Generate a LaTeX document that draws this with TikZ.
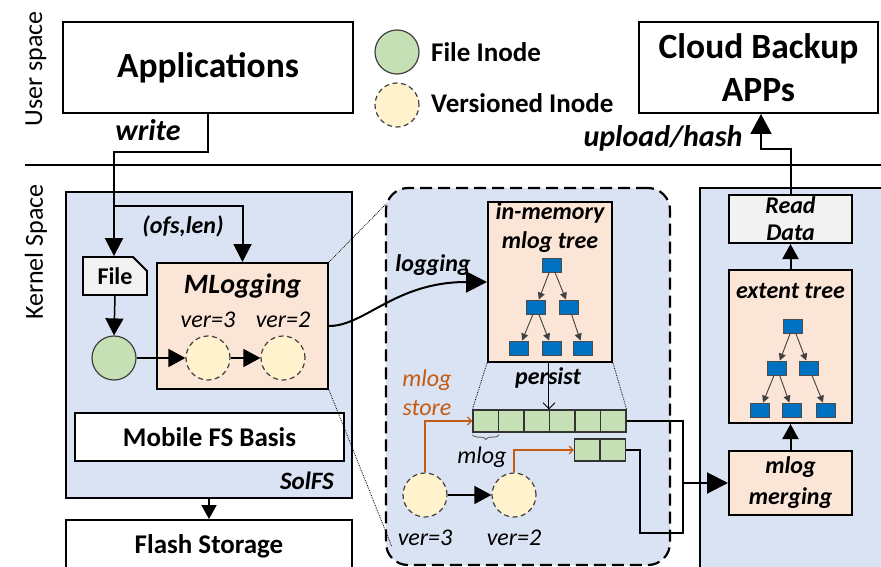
\documentclass[tikz,border=0pt]{standalone}
\usepackage{fontspec}
\setmainfont{Carlito}
\usetikzlibrary{arrows.meta,shapes.misc,decorations.pathreplacing}
\definecolor{panelblue}{HTML}{DAE3F3}
\definecolor{peach}{HTML}{FBE5D6}
\definecolor{inodegreen}{HTML}{C5E0B4}
\definecolor{verfill}{HTML}{FFF2CC}
\definecolor{treeblue}{HTML}{0070C0}
\definecolor{storeorange}{HTML}{C55A11}
\definecolor{filegray}{HTML}{F2F2F2}
\begin{document}
\begin{tikzpicture}[x=1pt,y=-1pt,
  box/.style={draw, line width=2pt, inner sep=0pt},
  panel/.style={draw, line width=2pt, fill=panelblue},
  conn/.style={line width=2pt},
  arr/.style={line width=2pt, -{Triangle[length=18pt,width=18pt]}},
  midarr/.style={line width=2pt, -{Triangle[length=15pt,width=16pt]}},
  thinarr/.style={line width=1.5pt, -{Triangle[length=17pt,width=18pt]}},
  inode/.style={circle, draw=black!75, line width=1.2pt, fill=inodegreen, minimum size=44pt, inner sep=0pt},
  vinode/.style={circle, draw=black!75, line width=1.2pt, dash pattern=on 5pt off 3.5pt, fill=verfill, minimum size=44pt, inner sep=0pt},
  tnode/.style={draw=black!70, line width=0.8pt, fill=treeblue, minimum width=19pt, minimum height=14pt, inner sep=0pt},
  tedge/.style={draw=black!75, line width=0.9pt, -{Triangle[length=7pt,width=7pt]}},
  cell/.style={draw=black!80, line width=1.2pt, fill=inodegreen, minimum width=25.5pt, minimum height=22pt, inner sep=0pt},
  bi/.style={font=\fontsize{24}{29}\selectfont\bfseries\itshape, align=center, inner sep=0pt},
  it/.style={font=\fontsize{24}{29}\selectfont\itshape, align=center, inner sep=0pt},
  bl/.style={font=\fontsize{27}{32}\selectfont\bfseries, align=center, inner sep=0pt},
  big/.style={font=\fontsize{35.5}{43}\selectfont\bfseries, align=center},
  side/.style={font=\fontsize{26}{30}\selectfont, rotate=90, inner sep=0pt},
  dots/.style={densely dotted, line width=0.8pt}
]
\useasboundingbox (0,0) rectangle (881,567);

% ---------- user space ----------
\node[side] (userlbl) at (36,69) {User space};
\node[side] (kernlbl) at (36,252) {Kernel Space};
\node[box, big, minimum width=290pt, minimum height=91pt] (app) at (208,67.5) {Applications};
\node[box, big, minimum width=239pt, minimum height=91pt] (cloud) at (758.5,67.5) {Cloud Backup\\APPs};

% legend
\node[inode] (leg1) at (397,52) {};
\node[vinode] (leg2) at (397,105) {};
\node[bl, anchor=west] (leg1t) at (431,52) {File Inode};
\node[bl, anchor=west] (leg2t) at (431,103) {Versioned Inode};

% user/kernel divider
\coordinate (divl) at (25,165);
\coordinate (divr) at (885,165);
\draw[line width=2pt] (divl) -- (divr);

% ---------- panels ----------
\node[panel, minimum width=286pt, minimum height=306pt] (solfs) at (209,345) {};
\node[draw, line width=2.2pt, dash pattern=on 12pt off 6pt, fill=panelblue, rounded corners=22pt,
      minimum width=284pt, minimum height=377pt] (midpanel) at (528,376.5) {};
\node[panel, minimum width=186pt, minimum height=386pt, anchor=north west] (rpanel) at (699,187) {};

% ---------- SolFS ----------
\node[box, line width=1.8pt, chamfered rectangle, chamfered rectangle corners=north east,
      chamfered rectangle sep=7pt, fill=filegray, minimum width=64pt, minimum height=38pt,
      font=\fontsize{24}{29}\selectfont\bfseries] (file) at (115,276) {File};
\node[inode] (fino) at (114,358) {};
\node[box, fill=peach, minimum width=171pt, minimum height=126pt] (mlog) at (242.5,326) {};
\node[font=\fontsize{28}{32}\selectfont\bfseries\itshape, inner sep=0pt] (mlogt) at (242.5,286) {MLogging};
\node[it] (v3t) at (208,320) {ver=3};
\node[it] (v2t) at (283,320) {ver=2};
\node[vinode] (v3) at (208,358) {};
\node[vinode] (v2) at (283,358) {};
\node[box, fill=white, bl, minimum width=269pt, minimum height=48pt] (basis) at (209.5,437) {Mobile FS Basis};
\node[font=\fontsize{25}{29}\selectfont\bfseries\itshape, anchor=east, inner sep=0pt] (solfst) at (334,481) {SolFS};
\node[box, fill=white, bl, minimum width=286pt, minimum height=60pt, text depth=0pt] (flash) at (209,550) {};
\node[bl] (flasht) at (209,546) {Flash Storage};

\draw[thinarr] (file.south) -- (fino.north);
\draw[thinarr] (fino.east) -- (v3.west);
\draw[thinarr] (v3.east) -- (v2.west);
\draw[line width=2pt, -{Triangle[length=14pt,width=15pt]}] (solfs.south) -- (flash.north);

% write path
\coordinate (wbend) at (114,152);
\coordinate (ofsbranch) at (114,206);
\draw[arr] (app.south) |- (wbend) -- (wbend |- file.north);
\draw[arr] (ofsbranch) -| (mlog.north);
\node[font=\fontsize{30}{34}\selectfont\bfseries\itshape, inner sep=0pt] (writet) at (148,130) {write};
\node[font=\fontsize{24}{29}\selectfont\bfseries\itshape, inner sep=0pt] (ofst) at (183,226) {(ofs,len)};

% ---------- in-memory mlog tree ----------
\node[box, fill=peach, minimum width=124pt, minimum height=160pt] (tree) at (550,282) {};
\node[bi] (treet) at (550,228) {in-memory\\mlog tree};
\node[tnode] (ma) at (552,265) {};
\node[tnode] (mb) at (536,307) {};
\node[tnode] (mc) at (569,307) {};
\node[tnode] (md) at (519,348) {};
\node[tnode] (me) at (552,348) {};
\node[tnode] (mf) at (583,348) {};
\draw[tedge] (ma) -- (mb);
\draw[tedge] (ma) -- (mc);
\draw[tedge] (mb) -- (md);
\draw[tedge] (mb) -- (me);
\draw[tedge] (mc) -- (mf);

\node[bi] (loggingt) at (433,265) {logging};
\draw[line width=2pt, -{Triangle[length=21pt,width=21pt]}] (mlog.east) .. controls (365,326) and (395,282) .. (tree.west);

% zoom guides
\coordinate (ztop) at (387,203);
\coordinate (zbot) at (392,547);
\draw[dots] (mlog.north east) -- (ztop);
\draw[dots] (mlog.south east) -- (zbot);

% ---------- persisted mlogs ----------
\node[cell] (c1) at (485.75,421) {};
\node[cell] (c2) at (511.25,421) {};
\node[cell] (c3) at (536.75,421) {};
\node[cell] (c4) at (562.25,421) {};
\node[cell] (c5) at (587.75,421) {};
\node[cell] (c6) at (613.25,421) {};
\node[cell] (s1) at (587.25,450) {};
\node[cell] (s2) at (612.75,450) {};

\draw[dots] (tree.south west) -- (c1.north west);
\draw[dots] (tree.south east) -- (c6.north east);
\node[bi] (persistt) at (548,378) {persist};
\draw[line width=0.9pt, -{Straight Barb[length=6pt,width=12pt]}] (tree.south -| c4.north west) -- (c4.north west);

\draw[black!60, line width=0.9pt, decorate, decoration={brace, amplitude=5pt, mirror, raise=2pt}] (c1.south west) -- (c1.south east);
\node[it] (mlogbt) at (482,457) {mlog};

\node[vinode] (lv3) at (425,495) {};
\node[vinode] (lv2) at (514,495) {};
\node[it] (lv3t) at (425,538) {ver=3};
\node[it] (lv2t) at (514,538) {ver=2};
\draw[thinarr] (lv3.east) -- (lv2.west);

\node[it, text=storeorange] (storet) at (427,393) {mlog\\store};
\draw[storeorange, line width=1.2pt, -{Straight Barb[length=4pt,width=8pt]}] (lv3.north) |- (c1.west);
\draw[storeorange, line width=1.2pt, -{Straight Barb[length=4pt,width=8pt]}] (lv2.north) |- (s1.west);

% ---------- merging side ----------
\node[box, fill=filegray, bi, minimum width=123pt, minimum height=48pt] (read) at (790.5,219) {Read\\[-2pt]Data};
\node[box, fill=peach, minimum width=123pt, minimum height=153pt] (ext) at (790.5,346.5) {};
\node[bi] (extt) at (790.5,291) {extent tree};
\node[tnode] (ea) at (793,326) {};
\node[tnode] (eb) at (777,368) {};
\node[tnode] (ec) at (809,368) {};
\node[tnode] (ed) at (760,410) {};
\node[tnode] (ee) at (792,410) {};
\node[tnode] (ef) at (826,410) {};
\draw[tedge] (ea) -- (eb);
\draw[tedge] (ea) -- (ec);
\draw[tedge] (eb) -- (ed);
\draw[tedge] (eb) -- (ee);
\draw[tedge] (ec) -- (ef);
\node[box, fill=peach, bi, minimum width=123pt, minimum height=64pt] (merge) at (790.5,483) {mlog\\[2pt]merging};

\draw[midarr] (merge.north) -- (ext.south);
\draw[midarr] (ext.north) -- (read.north |- read.south);

% persisted logs feed the merger
\coordinate (jr) at (683,533);
\coordinate (jl) at (640,533);
\coordinate (join) at (683,483);
\draw[conn] (c6.east) -| (jr) -- (jl) |- (s2.east);
\draw[line width=2pt, -{Triangle[length=21pt,width=21pt]}] (join) -- (merge.west);

% upload to the cloud
\coordinate (upbend) at (761,149);
\draw[line width=2pt, -{Triangle[length=20pt,width=21pt]}] (read.north) |- (upbend) -- (upbend |- cloud.south);
\node[font=\fontsize{30}{34}\selectfont\bfseries\itshape, inner sep=0pt] (uplt) at (663,138) {upload/hash};
\end{tikzpicture}
\end{document}
